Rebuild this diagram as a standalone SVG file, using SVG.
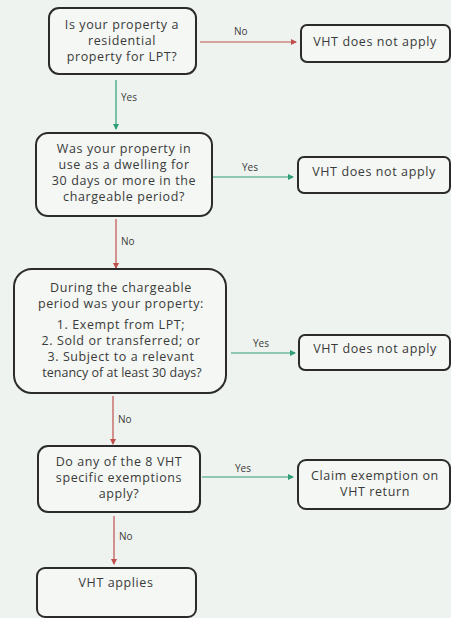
<svg xmlns="http://www.w3.org/2000/svg" width="451" height="618" viewBox="0 0 451 618">
<defs>
<style>
.box{fill:#f4f7f4;stroke:#2b2b2b;stroke-width:2}
.t{font-family:"Open Sans","Liberation Sans",sans-serif;font-size:12.5px;letter-spacing:0.6px;fill:#3a3a3a;text-anchor:middle}
.l{font-family:"Open Sans","Liberation Sans",sans-serif;font-size:10px;fill:#3a3a3a}
.r{stroke:#c0504d;stroke-width:1.2;fill:none;marker-end:url(#ar)}
.g{stroke:#2e9e74;stroke-width:1.2;fill:none;marker-end:url(#ag)}
</style>
<marker id="ar" viewBox="0 0 6 6" refX="5" refY="3" markerWidth="5" markerHeight="5" orient="auto"><path d="M0,0 L6,3 L0,6 z" fill="#c0504d"/></marker>
<marker id="ag" viewBox="0 0 6 6" refX="5" refY="3" markerWidth="5" markerHeight="5" orient="auto"><path d="M0,0 L6,3 L0,6 z" fill="#2e9e74"/></marker>
</defs>
<rect width="451" height="618" fill="#eef3ef"/>
<g id="connectors">
<line class="r" x1="200" y1="42" x2="296" y2="42"/>
<text class="l" x="234" y="35">No</text>
<line class="g" x1="116" y1="80" x2="116" y2="129"/>
<text class="l" x="121" y="101">Yes</text>
<line class="g" x1="213" y1="177" x2="293" y2="177"/>
<text class="l" x="242" y="171">Yes</text>
<line class="r" x1="116" y1="219" x2="116" y2="268"/>
<text class="l" x="121" y="245">No</text>
<line class="g" x1="231" y1="353" x2="295" y2="353"/>
<text class="l" x="253" y="347">Yes</text>
<line class="r" x1="113" y1="396" x2="113" y2="444"/>
<text class="l" x="118" y="423">No</text>
<line class="g" x1="202" y1="477" x2="293" y2="477"/>
<text class="l" x="235" y="472">Yes</text>
<line class="r" x1="114" y1="516" x2="114" y2="564"/>
<text class="l" x="119" y="540">No</text>
</g>
<g id="q1">
<rect class="box" x="49" y="8" width="147" height="66" rx="10"/>
<text class="t" x="122" y="29">Is your property a</text>
<text class="t" x="122" y="45">residential</text>
<text class="t" x="122" y="61">property for LPT?</text>
</g>
<g id="n1">
<rect class="box" x="301" y="25" width="149" height="37" rx="6"/>
<text class="t" x="375" y="46">VHT does not apply</text>
</g>
<g id="q2">
<rect class="box" x="36" y="133" width="176" height="83" rx="12"/>
<text class="t" x="124" y="153">Was your property in</text>
<text class="t" x="124" y="169">use as a dwelling for</text>
<text class="t" x="124" y="185">30 days or more in the</text>
<text class="t" x="124" y="201">chargeable period?</text>
</g>
<g id="n2">
<rect class="box" x="298" y="157" width="152" height="36" rx="6"/>
<text class="t" x="374" y="176">VHT does not apply</text>
</g>
<g id="q3">
<rect class="box" x="14" y="269" width="212" height="124" rx="18"/>
<text class="t" x="121" y="292">During the chargeable</text>
<text class="t" x="121" y="308">period was your property:</text>
<text class="t" x="121" y="329">1. Exempt from LPT;</text>
<text class="t" x="121" y="345">2. Sold or transferred; or</text>
<text class="t" x="121" y="361">3. Subject to a relevant</text>
<text class="t" x="122" y="377" style="letter-spacing:0">tenancy of at least 30 days?</text>
</g>
<g id="n3">
<rect class="box" x="299" y="335" width="151" height="35" rx="6"/>
<text class="t" x="375" y="353">VHT does not apply</text>
</g>
<g id="q4">
<rect class="box" x="38" y="446" width="162" height="66" rx="10"/>
<text class="t" x="119" y="466">Do any of the 8 VHT</text>
<text class="t" x="119" y="482">specific exemptions</text>
<text class="t" x="119" y="498">apply?</text>
</g>
<g id="n4">
<rect class="box" x="298" y="460" width="152" height="49" rx="8"/>
<text class="t" x="375" y="480">Claim exemption on</text>
<text class="t" x="375" y="496">VHT return</text>
</g>
<g id="n5">
<rect class="box" x="37" y="568" width="159" height="49" rx="8"/>
<text class="t" x="116" y="587">VHT applies</text>
</g>
</svg>
